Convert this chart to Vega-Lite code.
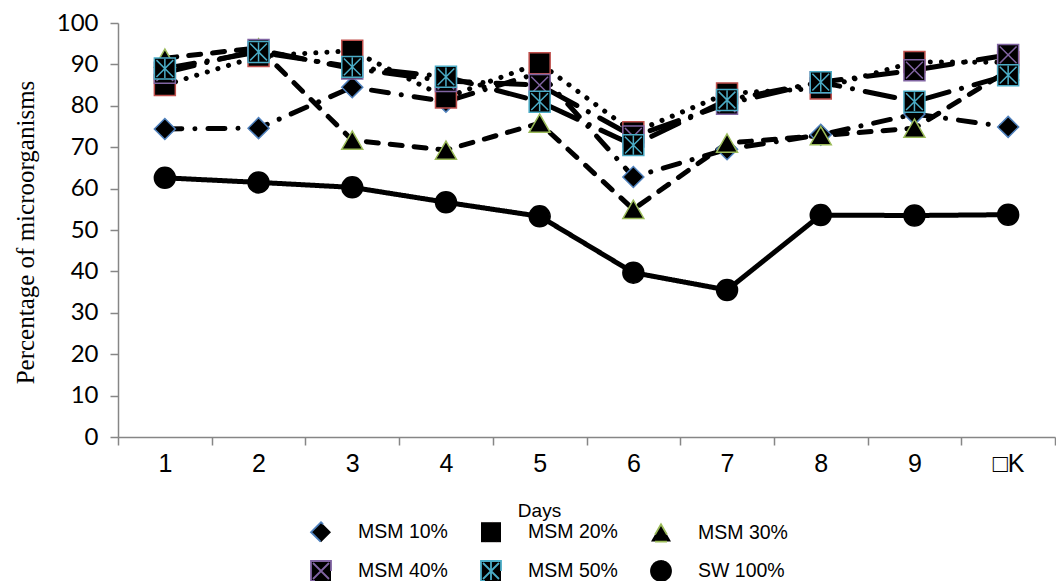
{
  "$schema": "https://vega.github.io/schema/vega-lite/v6.json",
  "width": 937,
  "height": 414,
  "autosize": {"type": "none"},
  "padding": {"left": 118, "top": 23, "right": 1, "bottom": 144},
  "background": "white",
  "config": {
    "view": {"stroke": null},
    "axis": {"grid": false},
    "legend": {
      "orient": "none",
      "legendX": 192,
      "legendY": 498,
      "direction": "horizontal",
      "columns": 3,
      "labelFont": "Liberation Sans",
      "labelFontSize": 19.5,
      "labelColor": "black",
      "labelOffset": 26,
      "labelLimit": 200,
      "columnPadding": 29,
      "rowPadding": 11,
      "symbolSize": 400,
      "symbolStrokeWidth": 1.8,
      "symbolFillColor": "black",
      "symbolOpacity": 1
    }
  },
  "data": {
    "values": [
      {"series": "MSM 10%", "day": "1", "value": 74.4},
      {"series": "MSM 10%", "day": "2", "value": 74.6},
      {"series": "MSM 10%", "day": "3", "value": 84.5},
      {"series": "MSM 10%", "day": "4", "value": 81},
      {"series": "MSM 10%", "day": "5", "value": 88},
      {"series": "MSM 10%", "day": "6", "value": 62.8},
      {"series": "MSM 10%", "day": "7", "value": 69.5},
      {"series": "MSM 10%", "day": "8", "value": 73},
      {"series": "MSM 10%", "day": "9", "value": 78},
      {"series": "MSM 10%", "day": "□K", "value": 74.9},
      {"series": "MSM 20%", "day": "1", "value": 85},
      {"series": "MSM 20%", "day": "2", "value": 92},
      {"series": "MSM 20%", "day": "3", "value": 93.3},
      {"series": "MSM 20%", "day": "4", "value": 82},
      {"series": "MSM 20%", "day": "5", "value": 90.3},
      {"series": "MSM 20%", "day": "6", "value": 73.6},
      {"series": "MSM 20%", "day": "7", "value": 83},
      {"series": "MSM 20%", "day": "8", "value": 84.2},
      {"series": "MSM 20%", "day": "9", "value": 90.6},
      {"series": "MSM 20%", "day": "□K", "value": 90.5},
      {"series": "MSM 30%", "day": "1", "value": 91.5},
      {"series": "MSM 30%", "day": "2", "value": 94},
      {"series": "MSM 30%", "day": "3", "value": 71.7},
      {"series": "MSM 30%", "day": "4", "value": 69.3},
      {"series": "MSM 30%", "day": "5", "value": 75.8},
      {"series": "MSM 30%", "day": "6", "value": 55},
      {"series": "MSM 30%", "day": "7", "value": 71},
      {"series": "MSM 30%", "day": "8", "value": 72.8},
      {"series": "MSM 30%", "day": "9", "value": 74.6},
      {"series": "MSM 30%", "day": "□K", "value": 88.5},
      {"series": "MSM 40%", "day": "1", "value": 88},
      {"series": "MSM 40%", "day": "2", "value": 93.5},
      {"series": "MSM 40%", "day": "3", "value": 89},
      {"series": "MSM 40%", "day": "4", "value": 86},
      {"series": "MSM 40%", "day": "5", "value": 85},
      {"series": "MSM 40%", "day": "6", "value": 72.6},
      {"series": "MSM 40%", "day": "7", "value": 80.5},
      {"series": "MSM 40%", "day": "8", "value": 85.7},
      {"series": "MSM 40%", "day": "9", "value": 88.6},
      {"series": "MSM 40%", "day": "□K", "value": 92.3},
      {"series": "MSM 50%", "day": "1", "value": 89},
      {"series": "MSM 50%", "day": "2", "value": 93},
      {"series": "MSM 50%", "day": "3", "value": 89.4},
      {"series": "MSM 50%", "day": "4", "value": 87},
      {"series": "MSM 50%", "day": "5", "value": 81},
      {"series": "MSM 50%", "day": "6", "value": 70.5},
      {"series": "MSM 50%", "day": "7", "value": 81.4},
      {"series": "MSM 50%", "day": "8", "value": 85.7},
      {"series": "MSM 50%", "day": "9", "value": 81},
      {"series": "MSM 50%", "day": "□K", "value": 87.4},
      {"series": "SW 100%", "day": "1", "value": 62.6},
      {"series": "SW 100%", "day": "2", "value": 61.5},
      {"series": "SW 100%", "day": "3", "value": 60.3},
      {"series": "SW 100%", "day": "4", "value": 56.7},
      {"series": "SW 100%", "day": "5", "value": 53.3},
      {"series": "SW 100%", "day": "6", "value": 39.7},
      {"series": "SW 100%", "day": "7", "value": 35.5},
      {"series": "SW 100%", "day": "8", "value": 53.6},
      {"series": "SW 100%", "day": "9", "value": 53.5},
      {"series": "SW 100%", "day": "□K", "value": 53.7}
    ]
  },
  "encoding": {
    "x": {
      "field": "day",
      "type": "nominal",
      "sort": ["1", "2", "3", "4", "5", "6", "7", "8", "9", "□K"],
      "scale": {"type": "band", "paddingInner": 0, "paddingOuter": 0},
      "axis": {
        "labelAngle": 0,
        "domainColor": "#868686",
        "domainWidth": 1.5,
        "tickColor": "#868686",
        "tickWidth": 1.5,
        "tickSize": 8,
        "tickBand": "extent",
        "labelFont": "Liberation Sans",
        "labelFontSize": 25,
        "labelColor": "black",
        "labelPadding": 6,
        "title": "Days",
        "titleFont": "Liberation Sans",
        "titleFontSize": 19,
        "titleFontWeight": "normal",
        "titleColor": "black",
        "titleX": 421,
        "titleY": 79,
        "titleBaseline": "alphabetic"
      }
    },
    "y": {
      "field": "value",
      "type": "quantitative",
      "scale": {"domain": [0, 100], "nice": false, "zero": true},
      "axis": {
        "values": [0, 10, 20, 30, 40, 50, 60, 70, 80, 90, 100],
        "domainColor": "#868686",
        "domainWidth": 1.5,
        "tickColor": "#868686",
        "tickWidth": 1.5,
        "tickSize": 8,
        "labelFont": "Lato",
        "labelFontSize": 24,
        "labelColor": "black",
        "labelPadding": 12,
        "title": "Percentage of microorganisms",
        "titleFont": "Liberation Serif",
        "titleFontSize": 25,
        "titleFontWeight": "normal",
        "titleColor": "black",
        "titleX": -93,
        "titleY": 209,
        "titleAngle": -90,
        "titleAlign": "center",
        "titleBaseline": "middle"
      }
    }
  },
  "layer": [
    {
      "mark": {"type": "line", "strokeWidth": 5, "strokeCap": "round", "strokeJoin": "round", "color": "black"},
      "encoding": {
        "detail": {"field": "series", "type": "nominal"},
        "strokeDash": {
          "field": "series",
          "type": "nominal",
          "scale": {
            "domain": ["MSM 10%", "MSM 20%", "MSM 30%", "MSM 40%", "MSM 50%", "SW 100%"],
            "range": [[17, 13, 0.1, 13], [0.1, 11], [12, 12], [30, 13, 0.1, 13], [30, 13, 0.1, 13], [1, 0]]
          },
          "legend": {"title": null, "encode": {"symbols": {"update": {"strokeDash": {"value": [1, 0]}}}}}
        }
      }
    },
    {
      "mark": {"type": "point", "filled": true, "fill": "black", "strokeWidth": 1.5, "size": 440, "opacity": 1},
      "encoding": {
        "shape": {
          "field": "series",
          "type": "nominal",
          "scale": {
            "domain": ["MSM 10%", "MSM 20%", "MSM 30%", "MSM 40%", "MSM 50%", "SW 100%"],
            "range": ["diamond", "square", "triangle-up", "M-1,-1H1V1H-1Z M-0.8,-0.8L0.8,0.8 M-0.8,0.8L0.8,-0.8", "M-1,-1H1V1H-1Z M-0.8,-0.8L0.8,0.8 M-0.8,0.8L0.8,-0.8 M0,-0.9V0.9", "circle"]
          },
          "legend": {"title": null}
        },
        "stroke": {
          "field": "series",
          "type": "nominal",
          "scale": {
            "domain": ["MSM 10%", "MSM 20%", "MSM 30%", "MSM 40%", "MSM 50%", "SW 100%"],
            "range": ["#4F81BD", "#C0504D", "#9BBB59", "#8064A2", "#4BACC6", "#000000"]
          },
          "legend": {"title": null}
        }
      }
    }
  ]
}
